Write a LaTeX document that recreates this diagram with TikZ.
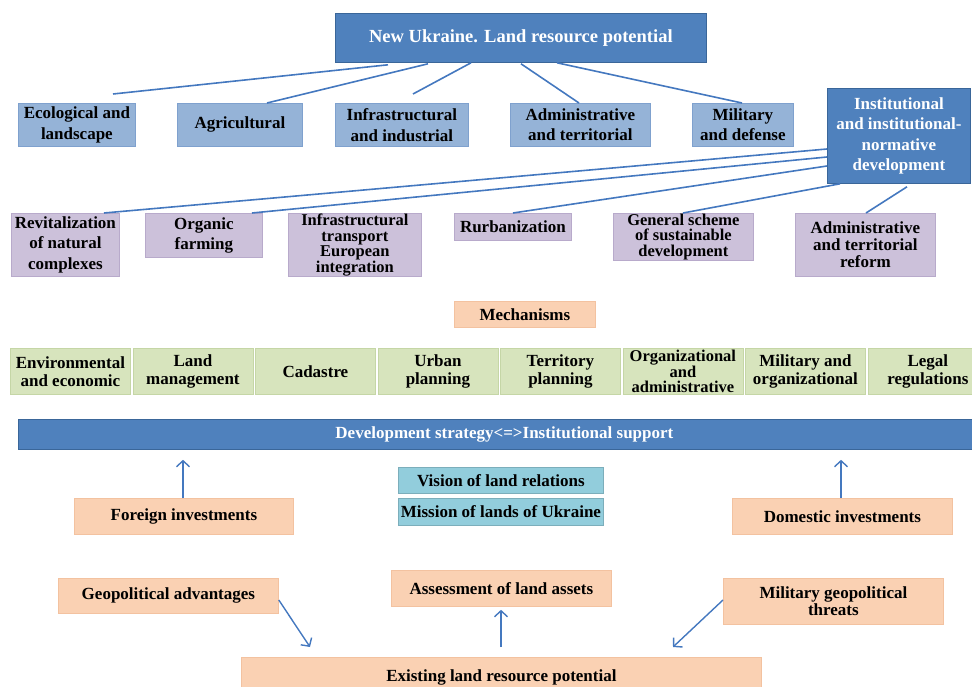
\documentclass[tikz,border=0pt]{standalone}
\usepackage{fontspec}
\setmainfont{Liberation Serif}
\usetikzlibrary{arrows.meta,calc}
\definecolor{dblue}{HTML}{4F81BD}
\definecolor{dblueb}{HTML}{3A6699}
\definecolor{lblue}{HTML}{95B3D7}
\definecolor{lblueb}{HTML}{7FA1CE}
\definecolor{lpurp}{HTML}{CCC1DA}
\definecolor{lpurpb}{HTML}{B8AACB}
\definecolor{lgreen}{HTML}{D7E4BD}
\definecolor{lgreenb}{HTML}{C5D6A6}
\definecolor{peach}{HTML}{FAD1B3}
\definecolor{peachb}{HTML}{F3C2A0}
\definecolor{cyanb}{HTML}{92CDDC}
\definecolor{lcol}{HTML}{4478BF}
\tikzset{
  bx/.style={rectangle, anchor=north west, inner sep=0pt, align=center,
    font=\bfseries\fontsize{17}{20.5}\selectfont, line width=0.8pt},
  dk/.style={bx, fill=dblue, draw=dblueb, text=white},
  lb/.style={bx, fill=lblue, draw=lblueb},
  pu/.style={bx, fill=lpurp, draw=lpurpb},
  gr/.style={bx, fill=lgreen, draw=lgreenb, font=\bfseries\fontsize{17}{18}\selectfont},
  pe/.style={bx, fill=peach, draw=peachb},
  cy/.style={bx, fill=cyanb, draw=cyanb!85!black},
  tight/.style={font=\bfseries\fontsize{16.5}{15.5}\selectfont},
  conn/.style={draw=lcol, line width=1.6pt},
  arr/.style={draw=lcol, line width=1.4pt, -{Straight Barb[length=6pt,width=13pt,line width=1.4pt]}}
}
\begin{document}
\begin{tikzpicture}[x=1pt,y=-1pt]
\useasboundingbox (0,0) rectangle (972,687);
% title
\node[dk, minimum width=371, minimum height=49, font=\bfseries\fontsize{18.5}{21}\selectfont] (title) at (335,13) {New Ukraine. Land resource potential};
% row 1
\node[lb, minimum width=117, minimum height=43] (eco) at (18,103) {Ecological and\\landscape};
\node[lb, minimum width=125, minimum height=43] (agri) at (177,103) {Agricultural};
\node[lb, minimum width=133, minimum height=43] (infra) at (335,103) {Infrastructural\\and industrial};
\node[lb, minimum width=140, minimum height=43] (admin) at (510,103) {Administrative\\and territorial};
\node[lb, minimum width=101, minimum height=43] (mil) at (692,103) {Military\\and defense};
\node[dk, minimum width=143, minimum height=95] (inst) at (827,88) {Institutional\\and institutional-\\normative\\development};
% row 2
\node[pu, minimum width=108, minimum height=63] (revit) at (11,213) {Revitalization\\of natural\\complexes};
\node[pu, minimum width=117, minimum height=44] (organic) at (145,213) {Organic\\farming};
\node[pu, tight, minimum width=133, minimum height=63] (itransp) at (288,213) {Infrastructural\\transport\\European\\integration};
\node[pu, minimum width=117, minimum height=27] (rurb) at (454,213) {Rurbanization};
\node[pu, tight, minimum width=140, minimum height=47] (gen) at (613,213) {General scheme\\of sustainable\\development};
\node[pu, minimum width=140, minimum height=63, font=\bfseries\fontsize{17}{17}\selectfont] (admref) at (795,213) {Administrative\\and territorial\\reform};
% mechanisms
\node[pe, minimum width=141, minimum height=26] (mech) at (454,301) {Mechanisms};
% green row
\node[gr, minimum width=120, minimum height=46] (g1) at (10,348) {Environmental\\and economic};
\node[gr, minimum width=120, minimum height=46] (g2) at (132.5,348) {Land\\management};
\node[gr, minimum width=120, minimum height=46] (g3) at (255,348) {Cadastre};
\node[gr, minimum width=120, minimum height=46] (g4) at (377.5,348) {Urban\\planning};
\node[gr, minimum width=120, minimum height=46] (g5) at (500,348) {Territory\\planning};
\node[gr, minimum width=120, minimum height=46, font=\bfseries\fontsize{16.5}{15.2}\selectfont] (g6) at (622.5,348) {Organizational\\and\\administrative};
\node[gr, minimum width=120, minimum height=46] (g7) at (745,348) {Military and\\organizational};
\node[gr, minimum width=120, minimum height=46] (g8) at (867.5,348) {Legal\\regulations};
% development bar
\node[dk, minimum width=972, minimum height=30] (dev) at (18,419) {Development strategy<=>Institutional support};
% vision / mission
\node[cy, minimum width=205, minimum height=26] (vision) at (398,467) {Vision of land relations};
\node[cy, minimum width=205, minimum height=27] (mission) at (398,498) {Mission of lands of Ukraine};
% investments
\node[pe, minimum width=219, minimum height=36] (foreign) at (74,498) {Foreign investments};
\node[pe, minimum width=220, minimum height=36] (domestic) at (732,498) {Domestic investments};
% bottom
\node[pe, minimum width=220, minimum height=35] (geo) at (58,578) {Geopolitical advantages};
\node[pe, minimum width=220, minimum height=36] (assess) at (391,570) {Assessment of land assets};
\node[pe, minimum width=220, minimum height=46, font=\bfseries\fontsize{17}{15.5}\selectfont] (milthr) at (723,578) {Military geopolitical\\threats};
\node[pe, minimum width=520, minimum height=40] (exist) at (241,657) {Existing land resource potential};
% connectors from title
\draw[conn] ([xshift=53pt,yshift=-2pt]title.south west) -- ([xshift=95pt,yshift=9pt]eco.north west);
\draw[conn] ([xshift=93pt,yshift=-1pt]title.south west) -- ([xshift=90pt]agri.north west);
\draw[conn] ([xshift=136pt]title.south west) -- ([xshift=78pt,yshift=9pt]infra.north west);
\draw[conn] ([xshift=186pt,yshift=-1pt]title.south west) -- ([xshift=69pt]admin.north west);
\draw[conn] ([xshift=222pt]title.south west) -- ([xshift=50pt]mil.north west);
% connectors from institutional
\draw[conn] ([yshift=-61pt]inst.north west) -- ([xshift=93pt]revit.north west);
\draw[conn] ([yshift=-69pt]inst.north west) -- ([xshift=107pt]organic.north west);
\draw[conn] ([yshift=-78pt]inst.north west) -- ([xshift=59pt]rurb.north west);
\draw[conn] ([xshift=13pt]inst.south west) -- ([xshift=70pt]gen.north west);
\draw[conn] ([xshift=80pt,yshift=-3pt]inst.south west) -- ([xshift=71pt]admref.north west);
% arrows
\draw[arr] ([xshift=109pt]foreign.north west) -- ([xshift=165pt,yshift=-10pt]dev.south west);
\draw[arr] ([xshift=109pt]domestic.north west) -- ([xshift=823pt,yshift=-10pt]dev.south west);
\draw[arr] ([yshift=-22pt]geo.north east) -- ([xshift=69pt,yshift=10pt]exist.north west);
\draw[arr] ([yshift=-22pt]milthr.north west) -- ([xshift=432pt,yshift=10pt]exist.north west);
\draw[arr] ([xshift=260pt,yshift=10pt]exist.north west) -- ([xshift=110pt,yshift=-3pt]assess.south west);
\end{tikzpicture}
\end{document}
